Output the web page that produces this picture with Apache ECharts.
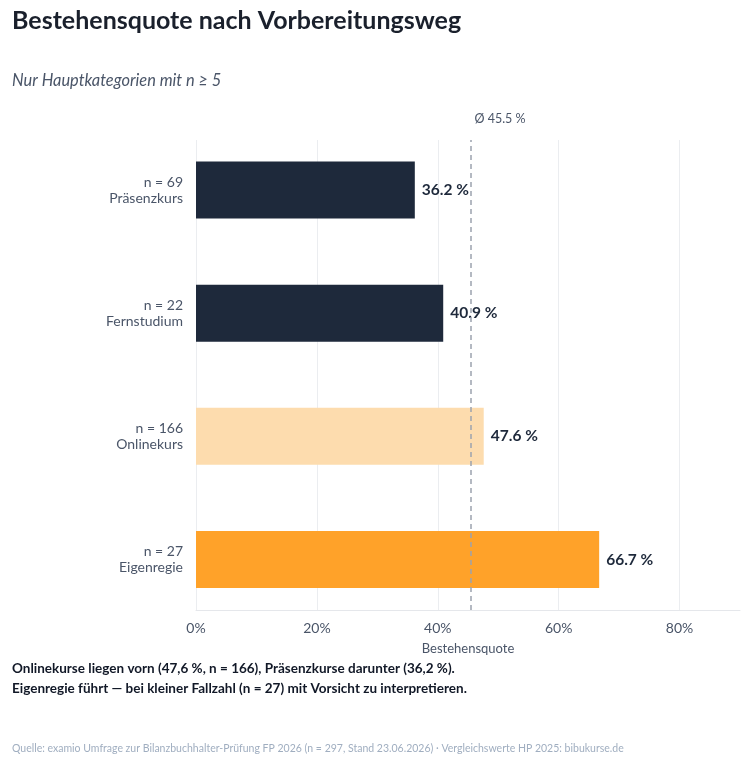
<!DOCTYPE html>
<html>
<head>
<meta charset="utf-8">
<script src="https://cdn.jsdelivr.net/npm/echarts@6/dist/echarts.min.js"></script>
<style>
  html, body { margin: 0; padding: 0; background: #fff; }
  #chart { width: 750px; height: 767px; }
</style>
</head>
<body>
<div id="chart"></div>
<script>
// Daten
var categories = ["Präsenzkurs", "Fernstudium", "Onlinekurs", "Eigenregie"];
var counts = [69, 22, 166, 27];
var rates = [36.2, 40.9, 47.6, 66.7];
var average = 45.5;
var xTicks = [0, 20, 40, 60, 80];

// Farben
var barColors = ["#1e293b", "#1e293b", "#fddcae", "#ffa229"];
var font = "Lato, 'Noto Sans', sans-serif";

var yLabels = categories.map(function (c, i) {
  return "n = " + counts[i] + "\n" + c;
});

var chart = echarts.init(document.getElementById("chart"));

chart.setOption({
  animation: false,
  textStyle: { fontFamily: font },
  title: [
    {
      text: "Bestehensquote nach Vorbereitungsweg",
      left: 12,
      top: 8,
      padding: 0,
      textStyle: { fontSize: 25, fontWeight: "bold", color: "#1a202c", fontFamily: font },
    },
    {
      text: "Nur Hauptkategorien mit n ≥ 5",
      left: 12,
      top: 73,
      padding: 0,
      textStyle: { fontSize: 16.4, fontStyle: "italic", fontWeight: "normal", color: "#4a5568", fontFamily: font },
    },
    {
      text: "Onlinekurse liegen vorn (47,6 %, n = 166), Präsenzkurse darunter (36,2 %).\nEigenregie führt — bei kleiner Fallzahl (n = 27) mit Vorsicht zu interpretieren.",
      left: 12,
      top: 659,
      padding: 0,
      textStyle: { fontSize: 13.5, fontWeight: "bold", color: "#111827", lineHeight: 20, fontFamily: font },
    },
    {
      text: "Quelle: examio Umfrage zur Bilanzbuchhalter-Prüfung FP 2026 (n = 297, Stand 23.06.2026) · Vergleichswerte HP 2025: bibukurse.de",
      left: 12,
      top: 743,
      padding: 0,
      textStyle: { fontSize: 10.5, fontWeight: "normal", color: "#a0aec0", fontFamily: font },
    },
  ],
  grid: [
    // Achsen, Gitter, Durchschnittslinie
    { left: 196, right: 10, top: 140, height: 470 },
    // Balken und Kategorien
    { left: 196, right: 10, top: 128.4, height: 492.7 },
  ],
  xAxis: [
    {
      gridIndex: 0,
      type: "value",
      min: 0,
      max: 90,
      interval: 20,
      name: "Bestehensquote",
      nameLocation: "middle",
      nameGap: 32,
      nameTextStyle: { color: "#4a5568", fontSize: 13, fontFamily: font },
      axisLine: { show: true, lineStyle: { color: "#e5e7eb", width: 1 } },
      axisTick: { show: false },
      axisLabel: {
        color: "#4a5568",
        fontSize: 14,
        margin: 11,
        showMaxLabel: false,
        formatter: function (v) {
          return xTicks.indexOf(v) >= 0 ? v + "%" : "";
        },
      },
      splitLine: {
        show: true,
        lineStyle: {
          color: ["#ebedf0", "#ebedf0", "#ebedf0", "#ebedf0", "#ebedf0", "rgba(0,0,0,0)"],
          width: 1,
        },
      },
    },
    {
      gridIndex: 1,
      type: "value",
      min: 0,
      max: 90,
      show: false,
    },
  ],
  yAxis: [
    {
      gridIndex: 0,
      type: "value",
      min: 0,
      max: 1,
      show: false,
    },
    {
      gridIndex: 1,
      type: "category",
      inverse: true,
      data: yLabels,
      axisLine: { show: false },
      axisTick: { show: false },
      splitLine: { show: false },
      axisLabel: {
        color: "#4a5568",
        fontSize: 14,
        lineHeight: 16,
        margin: 13,
        padding: [4, 0, 0, 0],
        align: "right",
      },
    },
  ],
  series: [
    {
      name: "Durchschnitt",
      type: "line",
      xAxisIndex: 0,
      yAxisIndex: 0,
      data: [],
      silent: true,
      markLine: {
        silent: true,
        symbol: "none",
        lineStyle: { color: "#9ca3af", type: [5, 4], width: 1.5 },
        label: {
          show: true,
          position: "end",
          distance: 15,
          padding: [0, 0, 0, 58],
          color: "#4a5568",
          fontSize: 12.5,
          fontFamily: font,
          formatter: "Ø " + average + " %",
        },
        data: [{ xAxis: average }],
      },
    },
    {
      name: "Bestehensquote",
      type: "bar",
      xAxisIndex: 1,
      yAxisIndex: 1,
      barWidth: 57,
      data: rates.map(function (v, i) {
        return { value: v, itemStyle: { color: barColors[i] } };
      }),
      label: {
        show: true,
        position: "right",
        distance: 7,
        color: "#1e293b",
        fontSize: 15.5,
        fontWeight: "bold",
        fontFamily: font,
        formatter: function (p) {
          return p.value.toFixed(1) + " %";
        },
      },
    },
  ],
});
</script>
</body>
</html>
